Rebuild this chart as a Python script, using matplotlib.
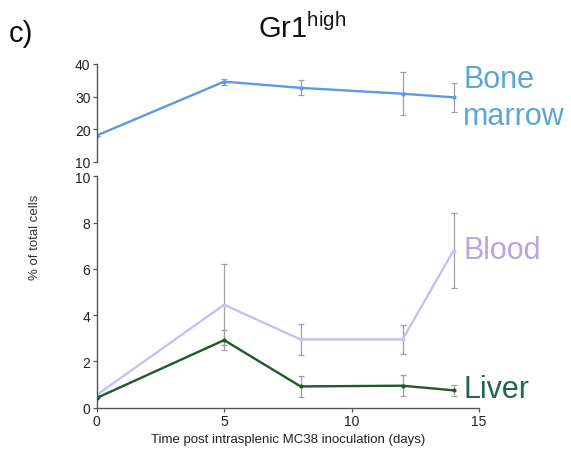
import matplotlib
matplotlib.use("Agg")
import matplotlib.pyplot as plt

plt.rcParams['font.family'] = ['Liberation Sans', 'DejaVu Sans']

days = [0, 5, 8, 12, 14]
bone_marrow = [18.1, 34.6, 32.7, 30.9, 29.8]
bone_marrow_err = [0.0, 0.9, 2.3, 6.5, 4.5]
blood = [0.55, 4.45, 2.95, 2.95, 6.79]
blood_err = [0.0, 1.75, 0.68, 0.62, 1.62]
liver = [0.42, 2.92, 0.92, 0.95, 0.75]
liver_err = [0.0, 0.42, 0.45, 0.46, 0.23]

top_ticks = [10, 20, 30, 40]
bot_ticks = [0, 2, 4, 6, 8, 10]
x_ticks = [0, 5, 10, 15]

fig = plt.figure(figsize=(5.71, 4.52), dpi=100)
left, width = 0.1693, 0.6696
ax_top = fig.add_axes([left, 0.6394, width, 0.2168])
ax_bot = fig.add_axes([left, 0.0958, width, 0.5119])

spine_c = '#555555'
err_c = '#a0a0a0'

def style(ax):
    for s in ['top', 'right']:
        ax.spines[s].set_visible(False)
    for s in ['left', 'bottom']:
        ax.spines[s].set_color(spine_c)
        ax.spines[s].set_linewidth(1.0)
    ax.tick_params(axis='both', colors=spine_c, labelcolor='#222222',
                   labelsize=10, length=3, width=0.9, pad=1.5)
    ax.patch.set_alpha(0)

style(ax_top)
style(ax_bot)

# top axis: bone marrow
ax_top.errorbar(days, bone_marrow, yerr=bone_marrow_err, fmt='none',
                ecolor=err_c, elinewidth=0.9, capsize=2, capthick=0.9, zorder=1)
ax_top.plot(days, bone_marrow, color='#5b9ae8', lw=1.7, marker='o', ms=2, zorder=2)
ax_top.set_xlim(0, 15)
ax_top.set_ylim(10, 40)
ax_top.set_yticks(top_ticks)
ax_top.spines['bottom'].set_visible(False)
ax_top.set_xticks([])

# bottom axis
ax_bot.errorbar(days, blood, yerr=blood_err, fmt='none',
                ecolor=err_c, elinewidth=0.9, capsize=2, capthick=0.9, zorder=1)
ax_bot.errorbar(days, liver, yerr=liver_err, fmt='none',
                ecolor=err_c, elinewidth=0.9, capsize=2, capthick=0.9, zorder=1)
ax_bot.plot(days, blood, color='#c3c3f3', lw=1.7, marker='o', ms=2, zorder=2)
ax_bot.plot(days, liver, color='#1e5a2a', lw=1.7, marker='o', ms=2, zorder=3)
ax_bot.set_xlim(0, 15)
ax_bot.set_ylim(0, 10)
ax_bot.set_yticks(bot_ticks)
ax_bot.set_xticks(x_ticks)
ax_bot.set_xlabel('Time post intrasplenic MC38 inoculation (days)', fontsize=9.5,
                  color='#222222', labelpad=3.5)

fig.text(35 / 571, 1 - 237 / 452, '% of total cells', rotation=90, fontsize=9.5,
         color='#333333', ha='center', va='center')

# labels
fig.text(463 / 571, 1 - 88 / 452, 'Bone', fontsize=22, color='#5ba6d6',
         ha='left', va='baseline')
fig.text(463 / 571, 1 - 125 / 452, 'marrow', fontsize=22, color='#5ba6d6',
         ha='left', va='baseline')
fig.text(464 / 571, 1 - 251 / 452, 'Blood', fontsize=22, color='#b9a6dc',
         ha='left', va='center')
fig.text(463 / 571, 1 - 390 / 452, 'Liver', fontsize=22, color='#1f6a44',
         ha='left', va='center')

fig.text(258 / 571, 1 - 38 / 452, r'Gr1$^{\mathregular{high}}$', fontsize=21,
         color='#111111', ha='left', va='baseline')
fig.text(9 / 571, 1 - 42 / 452, 'c)', fontsize=21, color='#111111',
         ha='left', va='baseline')

fig.savefig('out.png', dpi=100)
